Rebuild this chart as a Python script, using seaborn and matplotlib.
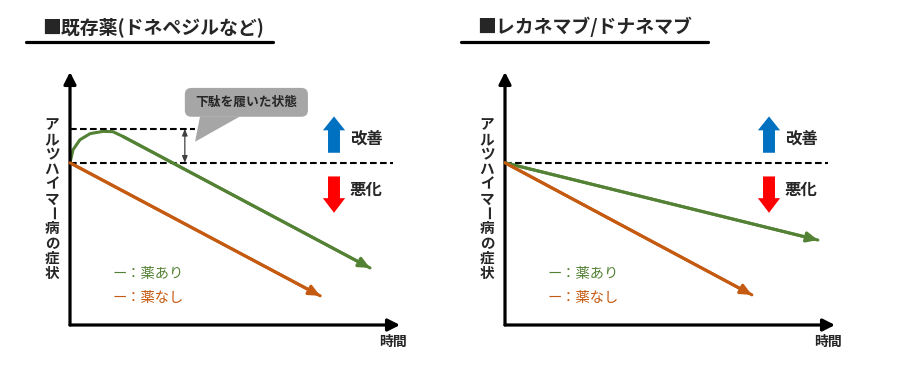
import numpy as np
import pandas as pd
import matplotlib
matplotlib.use("Agg")
import matplotlib.pyplot as plt
from matplotlib.lines import Line2D
from matplotlib.patches import FancyBboxPatch, Polygon
import seaborn as sns

# ==========================================
# DATA (time vs symptom level, baseline = 0)
# ==========================================
titles = ['■既存薬(ドネペジルなど)', '■レカネマブ/ドナネマブ']

# left panel: existing drug (symptomatic boost then decline)
old_drug_t = [0.0, 0.09, 0.30, 0.61, 1.00, 1.30, 1.61, 9.09]
old_drug_y = [0.0, 0.40, 0.71, 0.90, 0.97, 0.96, 0.81, -3.24]
old_none_t = [0.0, 7.58]
old_none_y = [0.0, -4.10]

# right panel: lecanemab/donanemab (slower decline)
new_drug_t = [0.0, 9.48]
new_drug_y = [0.0, -2.38]
new_none_t = [0.0, 7.48]
new_none_y = [0.0, -4.07]

geta_level = 1.05
ylabel_chars = list('アルツハイマー病の症状')

GREEN = '#548235'
ORANGE = '#c55a11'
BLUE = '#0070c0'
RED = '#ff0000'

sns.set_style('white')
plt.rcParams['font.family'] = ['Noto Sans CJK JP', 'DejaVu Sans']

fig = plt.figure(figsize=(9, 3.75), dpi=100)

W, H = 900, 375
panels = [
    dict(x0=70, title_x=42, ul=(26, 273),
         series=[(old_drug_t, old_drug_y, GREEN), (old_none_t, old_none_y, ORANGE)], geta=True),
    dict(x0=505, title_x=477, ul=(461, 708),
         series=[(new_drug_t, new_drug_y, GREEN), (new_none_t, new_none_y, ORANGE)], geta=False),
]


def end_arrow(ax, t, y, color):
    ax.annotate('', xy=(t[-1], y[-1]), xytext=(t[-2], y[-2]),
                arrowprops=dict(arrowstyle='-|>,head_length=0.65,head_width=0.3',
                                mutation_scale=10, color=color, lw=2.2,
                                shrinkA=0, shrinkB=0))


for i, p in enumerate(panels):
    ax = fig.add_axes([p['x0'] / W, 1 - 325 / H, 330 / W, (325 - 72) / H])
    ax.set_xlim(0, 10)
    ax.set_ylim(-5, 2.8)
    ax.axis('off')

    # axes with arrow heads
    for xy in [(0, 1), (1, 0)]:
        ax.annotate('', xy=xy, xytext=(0, 0), xycoords='axes fraction',
                    arrowprops=dict(arrowstyle='-|>,head_length=0.65,head_width=0.33',
                                    mutation_scale=11, color='black', lw=2.3,
                                    shrinkA=0, shrinkB=0))

    # baseline
    ax.plot([0, 9.8], [0, 0], ls=(0, (3.2, 1.6)), color='black', lw=1.5)

    for t, y, c in p['series']:
        df = pd.DataFrame({'t': t, 'y': y})
        sns.lineplot(data=df, x='t', y='y', ax=ax, color=c, lw=2.2, sort=False,
                     estimator=None)
        end_arrow(ax, t, y, c)

    if p['geta']:
        ax.plot([0, 3.8], [geta_level, geta_level], ls=(0, (3.2, 1.6)), color='black', lw=1.5)
        ax.annotate('', xy=(3.48, geta_level), xytext=(3.48, 0),
                    arrowprops=dict(arrowstyle='<|-|>,head_length=0.5,head_width=0.2',
                                    mutation_scale=8, color='#404040', lw=0.9,
                                    shrinkA=0, shrinkB=0))
        box = FancyBboxPatch((3.48, 1.42), 7.21 - 3.48, 2.31 - 1.42,
                             boxstyle='round,pad=0,rounding_size=0.2',
                             fc='#a6a6a6', ec='none', zorder=3)
        ax.add_patch(box)
        ax.add_patch(Polygon([(3.94, 1.43), (5.15, 1.43), (3.79, 0.65)],
                             closed=True, fc='#a6a6a6', ec='none', zorder=3))
        ax.text(5.35, 1.87, '下駄を履いた状態', ha='center', va='center',
                fontsize=9.2, fontweight='bold', color='#262626', zorder=4)

    # improve / worsen arrows
    ax.annotate('', xy=(8.0, 1.43), xytext=(8.0, 0.31),
                arrowprops=dict(arrowstyle='simple,head_length=1.0,head_width=1.6,tail_width=0.86',
                                mutation_scale=10, fc=BLUE, ec='none',
                                shrinkA=0, shrinkB=0))
    ax.annotate('', xy=(8.0, -1.54), xytext=(8.0, -0.42),
                arrowprops=dict(arrowstyle='simple,head_length=1.05,head_width=1.6,tail_width=0.86',
                                mutation_scale=10, fc=RED, ec='none',
                                shrinkA=0, shrinkB=0))
    ax.text(8.48, 0.71, '改善', ha='left', va='center', fontsize=11.8, fontweight='bold')
    ax.text(8.48, -0.83, '悪化', ha='left', va='center', fontsize=11.8, fontweight='bold')

    # legend text
    ax.text(1.3, -3.43, 'ー：薬あり', ha='left', va='center', fontsize=10.3, color=GREEN)
    ax.text(1.3, -4.17, 'ー：薬なし', ha='left', va='center', fontsize=10.3, color=ORANGE)

    ax.text(9.79, -5.52, '時間', ha='center', va='center', fontsize=10,
            fontweight='bold', clip_on=False)

    # vertical y label (long vowel mark rotated as in vertical writing)
    lx = (p['x0'] - 18) / W
    step = (280 - 117) / len(ylabel_chars)
    for k, ch in enumerate(ylabel_chars):
        yy = 117 + step * (k + 0.5)
        fig.text(lx, 1 - yy / H, ch, ha='center', va='center', fontsize=10.5,
                 fontweight='bold', rotation=-90 if ch == 'ー' else 0,
                 rotation_mode='anchor')

    # title + underline
    fig.text(p['title_x'] / W, 1 - 27 / H, titles[i], ha='left', va='center',
             fontsize=13.6, fontweight='bold')
    fig.add_artist(Line2D([p['ul'][0] / W, p['ul'][1] / W], [1 - 42 / H] * 2,
                          lw=2.3, color='black'))

fig.savefig('out.png', dpi=100)
